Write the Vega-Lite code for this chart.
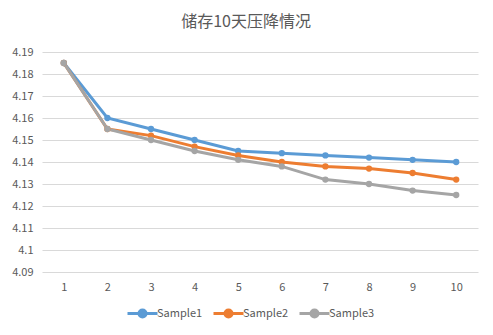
{
  "$schema": "https://vega.github.io/schema/vega-lite/v6.json",
  "width": 436,
  "height": 220,
  "autosize": {"type": "none"},
  "padding": {"left": 42, "top": 52, "right": 15, "bottom": 63},
  "background": "white",
  "title": {
    "text": "储存10天压降情况",
    "font": "Noto Sans CJK SC",
    "fontSize": 16,
    "fontWeight": "normal",
    "color": "#595959",
    "anchor": "middle",
    "offset": 16,
    "dx": -14
  },
  "data": {
    "values": [
      {"day": 1, "series": "Sample1", "v": 4.185},
      {"day": 2, "series": "Sample1", "v": 4.16},
      {"day": 3, "series": "Sample1", "v": 4.155},
      {"day": 4, "series": "Sample1", "v": 4.15},
      {"day": 5, "series": "Sample1", "v": 4.145},
      {"day": 6, "series": "Sample1", "v": 4.144},
      {"day": 7, "series": "Sample1", "v": 4.143},
      {"day": 8, "series": "Sample1", "v": 4.142},
      {"day": 9, "series": "Sample1", "v": 4.141},
      {"day": 10, "series": "Sample1", "v": 4.14},
      {"day": 1, "series": "Sample2", "v": 4.185},
      {"day": 2, "series": "Sample2", "v": 4.155},
      {"day": 3, "series": "Sample2", "v": 4.152},
      {"day": 4, "series": "Sample2", "v": 4.147},
      {"day": 5, "series": "Sample2", "v": 4.143},
      {"day": 6, "series": "Sample2", "v": 4.14},
      {"day": 7, "series": "Sample2", "v": 4.138},
      {"day": 8, "series": "Sample2", "v": 4.137},
      {"day": 9, "series": "Sample2", "v": 4.135},
      {"day": 10, "series": "Sample2", "v": 4.132},
      {"day": 1, "series": "Sample3", "v": 4.185},
      {"day": 2, "series": "Sample3", "v": 4.155},
      {"day": 3, "series": "Sample3", "v": 4.15},
      {"day": 4, "series": "Sample3", "v": 4.145},
      {"day": 5, "series": "Sample3", "v": 4.141},
      {"day": 6, "series": "Sample3", "v": 4.138},
      {"day": 7, "series": "Sample3", "v": 4.132},
      {"day": 8, "series": "Sample3", "v": 4.13},
      {"day": 9, "series": "Sample3", "v": 4.127},
      {"day": 10, "series": "Sample3", "v": 4.125}
    ]
  },
  "mark": {"type": "line", "strokeWidth": 3, "point": {"size": 40, "filled": true, "opacity": 1}},
  "encoding": {
    "x": {
      "field": "day",
      "type": "ordinal",
      "sort": [1, 2, 3, 4, 5, 6, 7, 8, 9, 10],
      "scale": {"type": "point", "padding": 0.5},
      "axis": {
        "title": null,
        "labelAngle": 0,
        "ticks": false,
        "domain": false,
        "grid": false,
        "labelColor": "#595959",
        "labelFont": "Noto Sans CJK SC",
        "labelFontSize": 11,
        "labelPadding": 9
      }
    },
    "y": {
      "field": "v",
      "type": "quantitative",
      "scale": {"domain": [4.09, 4.19], "zero": false, "nice": false},
      "axis": {
        "title": null,
        "values": [4.09, 4.1, 4.11, 4.12, 4.13, 4.14, 4.15, 4.16, 4.17, 4.18, 4.19],
        "format": ".3~r",
        "ticks": false,
        "domain": false,
        "gridColor": "#d9d9d9",
        "gridWidth": 1,
        "labelColor": "#595959",
        "labelFont": "Noto Sans CJK SC",
        "labelFontSize": 11,
        "labelPadding": 9
      }
    },
    "color": {
      "field": "series",
      "type": "nominal",
      "scale": {"domain": ["Sample1", "Sample2", "Sample3"], "range": ["#5B9BD5", "#ED7D31", "#A5A5A5"]},
      "legend": {
        "title": null,
        "orient": "none",
        "legendX": 89,
        "legendY": 250,
        "direction": "horizontal",
        "symbolType": "M-1.5,0L1.5,0M0.35,0A0.35,0.35 0 1,1 -0.35,0A0.35,0.35 0 1,1 0.35,0Z",
        "symbolSize": 400,
        "symbolStrokeWidth": 3,
        "labelColor": "#595959",
        "labelFont": "Noto Sans CJK SC",
        "labelFontSize": 11,
        "labelOffset": 3,
        "columnPadding": 4
      }
    }
  },
  "config": {"view": {"stroke": null}}
}
